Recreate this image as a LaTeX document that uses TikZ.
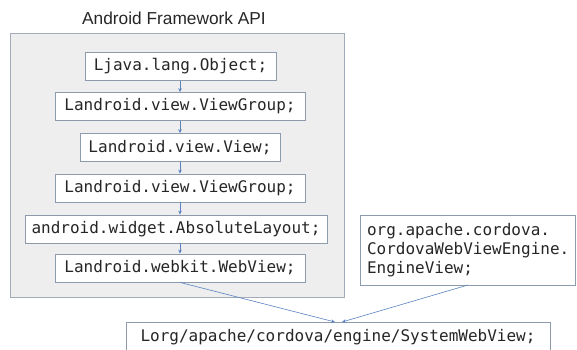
\documentclass[tikz,border=0pt]{standalone}
\usepackage{fontspec}
\setmainfont{Liberation Sans}
\setmonofont{DejaVu Sans Mono}
\usetikzlibrary{arrows.meta}
\definecolor{framefill}{HTML}{EEEEEE}
\definecolor{frameline}{HTML}{A3ABB8}
\definecolor{boxline}{HTML}{8E9BAD}
\definecolor{arrowblue}{HTML}{5A82C2}
\definecolor{txt}{HTML}{262626}
\begin{document}
\begin{tikzpicture}[x=1pt,y=-1pt,
  cls/.style={draw=boxline, fill=white, line width=0.8pt, minimum height=28pt,
    inner sep=0pt, font=\ttfamily\fontsize{16}{19}\selectfont, text=txt},
  link/.style={draw=arrowblue, line width=0.6pt, -{Stealth[length=4pt,width=3.5pt]}},
]
\useasboundingbox (0,0) rectangle (577,349);
\node[draw=frameline, fill=framefill, line width=0.8pt, minimum width=334pt, minimum height=264pt, inner sep=0pt] (frame) at (177,165) {};
\node[font=\fontsize{17.3}{20}\selectfont, text=txt] (title) at (174,18) {Android Framework API};
\node[cls, minimum width=191pt] (b1) at (180.5,66.5) {Ljava.lang.Object;};
\node[cls, minimum width=250pt] (b2) at (180,106.5) {Landroid.view.ViewGroup;};
\node[cls, minimum width=200pt] (b3) at (180,147.5) {Landroid.view.View;};
\node[cls, minimum width=250pt] (b4) at (180,188) {Landroid.view.ViewGroup;};
\node[cls, minimum width=302pt] (b5) at (176,229) {android.widget.AbsoluteLayout;};
\node[cls, minimum width=250pt] (b6) at (180,268) {Landroid.webkit.WebView;};
\node[cls, minimum width=215pt, minimum height=70pt, align=left, text width=201pt, inner xsep=7pt] (eng) at (467.5,250) {org.apache.cordova.\\CordovaWebViewEngine.\\EngineView;};
\node[cls, minimum width=424pt, minimum height=30pt] (sys) at (338,337) {Lorg/apache/cordova/engine/SystemWebView;};
\coordinate (s1) at (335,322);
\coordinate (s2) at (342,322);
\coordinate (e1) at (468,285);
\draw[link] (b1.south -| 180,0) -- (b2.north -| 180,0);
\draw[link] (b2.south -| 180,0) -- (b3.north -| 180,0);
\draw[link] (b3.south -| 180,0) -- (b4.north -| 180,0);
\draw[link] (b4.south -| 180,0) -- (b5.north -| 180,0);
\draw[link] (b5.south -| 180,0) -- (b6.north -| 180,0);
\draw[link] (b6.south) -- (s1);
\draw[link] (e1) -- (s2);
\end{tikzpicture}
\end{document}
